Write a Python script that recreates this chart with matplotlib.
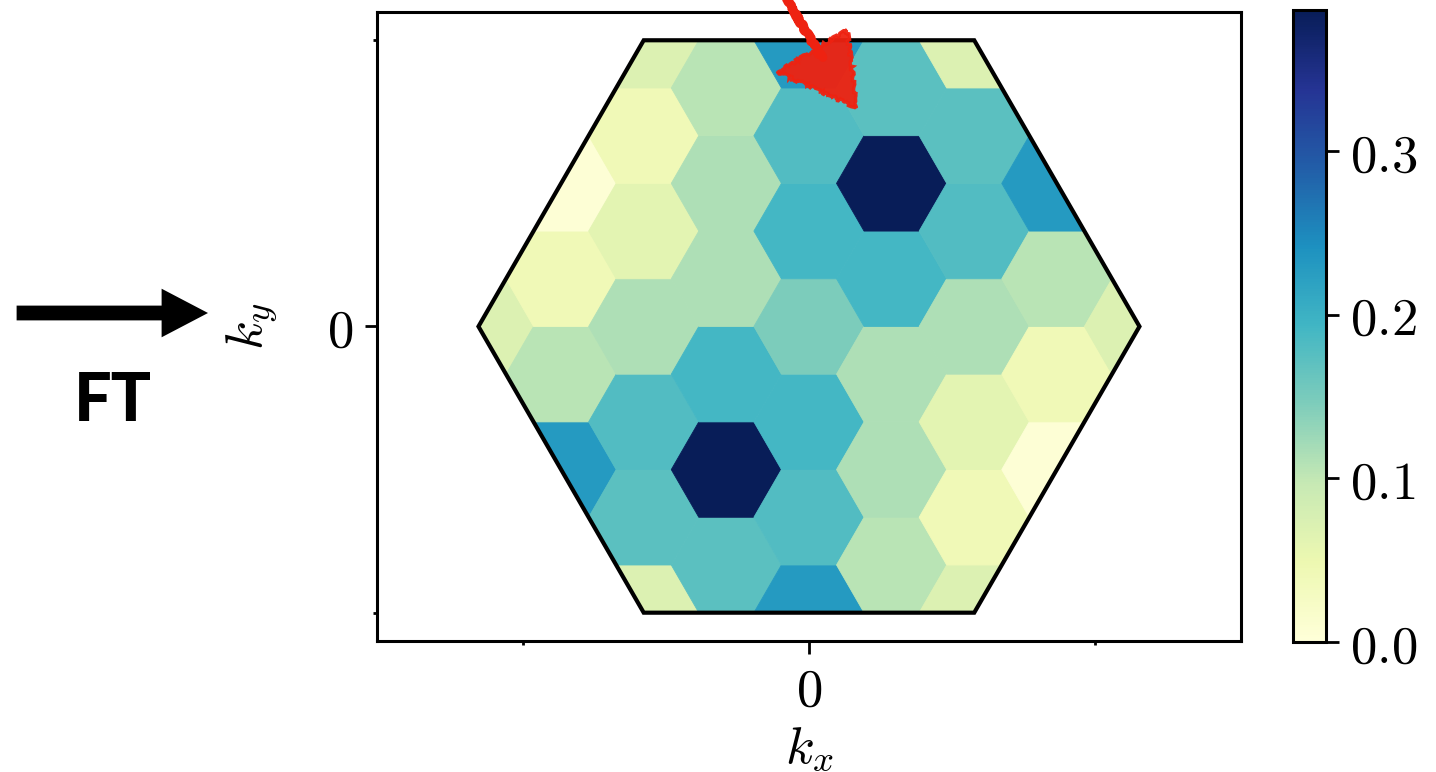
import numpy as np
import matplotlib
matplotlib.use("Agg")
import matplotlib.pyplot as plt
from matplotlib.patches import RegularPolygon, Polygon, FancyArrow
from matplotlib.collections import PatchCollection
from matplotlib.colors import Normalize

plt.rcParams["mathtext.fontset"] = "cm"

# hexagonal lattice of k-points inside the Brillouin zone
# column index i -> kx = 1.5*i, row index m -> ky = (sqrt(3)/2)*m  (units of small-cell radius)
col_idx = [-4,
           -3, -3, -3, -3,
           -2, -2, -2, -2, -2, -2, -2,
           -1, -1, -1, -1, -1, -1,
           0, 0, 0, 0, 0, 0, 0,
           1, 1, 1, 1, 1, 1,
           2, 2, 2, 2, 2, 2, 2,
           3, 3, 3, 3,
           4]
row_idx = [0,
           -3, -1, 1, 3,
           -6, -4, -2, 0, 2, 4, 6,
           -5, -3, -1, 1, 3, 5,
           -6, -4, -2, 0, 2, 4, 6,
           -5, -3, -1, 1, 3, 5,
           -6, -4, -2, 0, 2, 4, 6,
           -3, -1, 1, 3,
           0]
amp = [0.070,
       0.230, 0.106, 0.042, 0.005,
       0.070, 0.173, 0.180, 0.114, 0.061, 0.042, 0.070,
       0.173, 0.386, 0.190, 0.114, 0.114, 0.106,
       0.230, 0.180, 0.190, 0.147, 0.190, 0.180, 0.230,
       0.106, 0.114, 0.114, 0.190, 0.386, 0.173,
       0.070, 0.042, 0.061, 0.114, 0.180, 0.173, 0.070,
       0.005, 0.042, 0.106, 0.230,
       0.070]

cbar_ticks = [0.0, 0.1, 0.2, 0.3]
bz_radius = 6.0

fig = plt.figure(figsize=(7.18, 3.86), dpi=200)
ax = fig.add_axes([0.2625, 0.1697, 0.6017, 0.8148])

kx = 1.5 * np.array(col_idx)
ky = np.sqrt(3) / 2 * np.array(row_idx)

bz = Polygon([(bz_radius * np.cos(a), bz_radius * np.sin(a)) for a in np.arange(6) * np.pi / 3],
             closed=True, fill=False, edgecolor="black", linewidth=1.5, zorder=3)
ax.add_patch(bz)

cells = [RegularPolygon((x, y), numVertices=6, radius=1.0, orientation=np.pi / 6)
         for x, y in zip(kx, ky)]
norm = Normalize(vmin=0, vmax=max(amp))
pc = PatchCollection(cells, cmap="YlGnBu", norm=norm, edgecolor="face", linewidth=0.3)
pc.set_array(np.array(amp))
ax.add_collection(pc)
pc.set_clip_path(bz)

ax.set_xlim(-7.843, 7.843)
ax.set_ylim(-5.71, 5.71)
ax.set_xticks([0])
ax.set_xticklabels(["$0$"])
ax.set_yticks([0])
ax.set_yticklabels(["$0$"])
edge = 3 * np.sqrt(3)
ax.set_xticks([-edge, edge], minor=True)
ax.set_yticks([-edge, edge], minor=True)
ax.tick_params(which="major", length=4.5, width=1.0, labelsize=19, pad=4)
ax.tick_params(which="minor", length=1.3, width=1.0)
for s in ax.spines.values():
    s.set_linewidth(1.1)
ax.set_xlabel("$k_x$", fontsize=19, labelpad=2)
ax.set_ylabel("$k_y$", fontsize=19, labelpad=17)

cax = fig.add_axes([0.9004, 0.1684, 0.023, 0.8187])
cb = fig.colorbar(pc, cax=cax)
cb.set_ticks(cbar_ticks)
cb.set_ticklabels([f"${t:.1f}$" for t in cbar_ticks])
cb.ax.tick_params(length=4.7, width=1.0, labelsize=19, pad=4)
cb.outline.set_linewidth(1.1)

# overlay in pixel coordinates for the annotations
ov = fig.add_axes([0, 0, 1, 1])
ov.set_xlim(0, 1436)
ov.set_ylim(772, 0)
ov.axis("off")
ov.patch.set_alpha(0)

ov.add_patch(FancyArrow(18, 313, 187, 0, width=12, head_width=44, head_length=42,
                        length_includes_head=True, color="black"))
ov.text(113, 402, "FT", fontsize=24, fontweight="black", family="Lato",
        ha="center", va="center")

red = "#ee2211"
shaft, = ov.plot([784, 822], [-5, 58], color=red, linewidth=3.2, solid_capstyle="round")
shaft.set_sketch_params(scale=1.2, length=15, randomness=20)
head = Polygon([(778, 72), (847, 30), (857, 108)], closed=True, facecolor=red,
               edgecolor=red, linewidth=1.2, alpha=0.95)
head.set_sketch_params(scale=1.5, length=20, randomness=20)
ov.add_patch(head)

fig.savefig("out.png", dpi=200)
